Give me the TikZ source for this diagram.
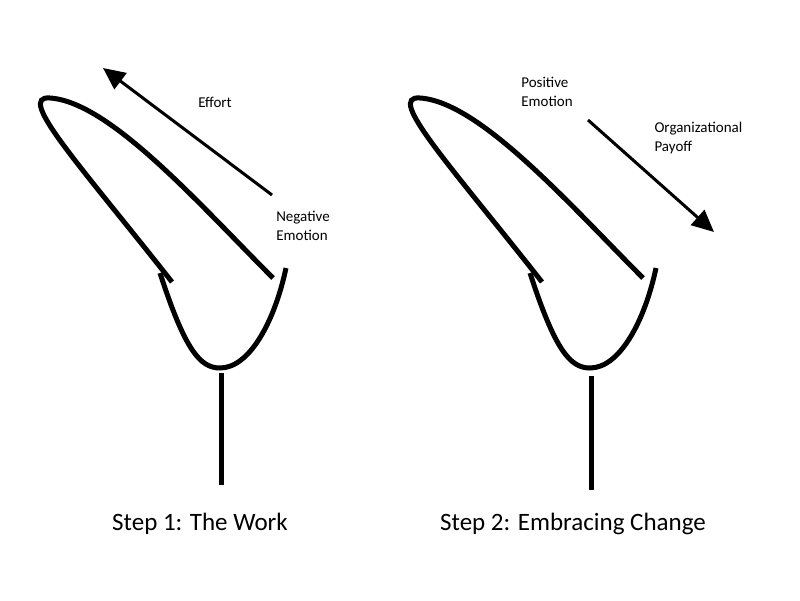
\documentclass[tikz,border=0pt]{standalone}
\usepackage{fontspec}
\setmainfont{Carlito}
\usetikzlibrary{arrows.meta}
\begin{document}
\begin{tikzpicture}[x=1pt,y=-1pt,
  thick line/.style={line width=5pt,line cap=butt},
  arr/.style={line width=3pt,-{Triangle[length=22pt,width=20pt]}},
  small/.style={font=\fontsize{15}{19}\selectfont,align=left},
  big/.style={font=\fontsize{25}{30}\selectfont},
  sling/.pic={
    \draw[thick line] (172,282) .. controls (80,165) and (15,95) .. (50,98) .. controls (110,102) and (200,205) .. (273,278);
    \draw[thick line] (160,273) .. controls (185,350) and (200,368) .. (220,368) .. controls (250,368) and (275,320) .. (286,268);
  }]
\useasboundingbox (0,0) rectangle (800,600);
% left
\pic at (0,0) {sling};
\draw[thick line] (221,373) -- (221,485);
\coordinate (e1) at (272,195);
\coordinate (e2) at (103,68);
\draw[arr] (e1) -- (e2);
\node[small] (eff) at (215,102) {Effort};
\node[small] (neg) at (303,226) {Negative\\Emotion};
\node[big] (s1) at (200,524) {Step 1: The Work};
% right
\pic at (370,0) {sling};
\draw[thick line] (591,376) -- (591,490);
\coordinate (p1) at (588,120);
\coordinate (p2) at (714,232);
\draw[arr] (p1) -- (p2);
\node[small] (pos) at (547,92) {Positive\\Emotion};
\node[small,anchor=west] (org) at (651,138) {Organizational\\Payoff};
\node[big] (s2) at (573,524) {Step 2: Embracing Change};
\end{tikzpicture}
\end{document}
